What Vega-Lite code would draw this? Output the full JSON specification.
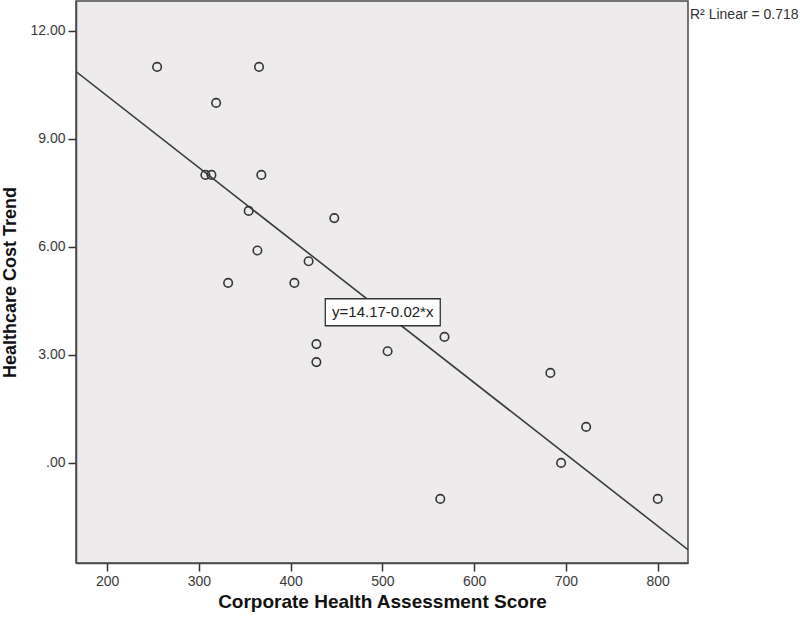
{
  "$schema": "https://vega.github.io/schema/vega-lite/v6.json",
  "width": 612,
  "height": 562,
  "autosize": {"type": "none"},
  "padding": {"left": 76, "top": 1, "right": 112, "bottom": 60},
  "background": "white",
  "config": {
    "view": {"fill": "#EDEBEB", "stroke": "#4a4a4a", "strokeWidth": 1.5},
    "font": "Liberation Sans",
    "axis": {
      "grid": false,
      "domainColor": "#4a4a4a",
      "domainWidth": 1.5,
      "tickColor": "#333333",
      "tickWidth": 1.5,
      "tickSize": 8,
      "labelFont": "Liberation Sans",
      "labelFontSize": 14,
      "labelColor": "#3a3a3a",
      "labelPadding": 3,
      "titleFont": "Liberation Sans",
      "titleFontSize": 19,
      "titleFontWeight": "bold",
      "titleColor": "#111111"
    }
  },
  "datasets": {
    "points": [
      {"score": 254.4, "trend": 11.0},
      {"score": 365.5, "trend": 11.0},
      {"score": 318.7, "trend": 10.0},
      {"score": 307.0, "trend": 8.0},
      {"score": 313.6, "trend": 8.0},
      {"score": 368.0, "trend": 8.0},
      {"score": 354.2, "trend": 7.0},
      {"score": 447.5, "trend": 6.8},
      {"score": 363.7, "trend": 5.9},
      {"score": 419.5, "trend": 5.6},
      {"score": 331.8, "trend": 5.0},
      {"score": 404.0, "trend": 5.0},
      {"score": 428.0, "trend": 3.3},
      {"score": 428.0, "trend": 2.8},
      {"score": 505.6, "trend": 3.1},
      {"score": 567.6, "trend": 3.5},
      {"score": 683.0, "trend": 2.5},
      {"score": 722.0, "trend": 1.0},
      {"score": 694.7, "trend": 0.0},
      {"score": 563.0, "trend": -1.0},
      {"score": 800.0, "trend": -1.0}
    ],
    "fit": [
      {"score": 166, "trend": 10.87},
      {"score": 833, "trend": -2.41}
    ],
    "note": [
      {"label": "y=14.17-0.02*x", "score": 500.3, "trend": 4.18, "xa": 437.7, "xb": 563.0, "ya": 3.81, "yb": 4.56}
    ],
    "r2": [
      {"label": "R² Linear = 0.718", "score": 833, "trend": 12.44}
    ]
  },
  "layer": [
    {
      "data": {"name": "fit"},
      "mark": {"type": "line", "color": "#3c3c3c", "strokeWidth": 1.6, "clip": true},
      "encoding": {
        "x": {
          "field": "score", "type": "quantitative",
          "scale": {"domain": [166, 833], "nice": false, "zero": false},
          "axis": {
            "values": [200, 300, 400, 500, 600, 700, 800],
            "title": "Corporate Health Assessment Score",
            "titlePadding": 4
          }
        },
        "y": {
          "field": "trend", "type": "quantitative",
          "scale": {"domain": [-2.78, 12.83], "nice": false, "zero": false},
          "axis": {
            "values": [0, 3, 6, 9, 12],
            "labelExpr": "datum.value == 0 ? '.00' : format(datum.value, '.2f')",
            "title": "Healthcare Cost Trend",
            "titleFontSize": 18,
            "titlePadding": 10
          }
        }
      }
    },
    {
      "data": {"name": "note"},
      "mark": {"type": "rect", "fill": "white", "stroke": "#333333", "strokeWidth": 1.3},
      "encoding": {
        "x": {"field": "xa", "type": "quantitative", "title": "Corporate Health Assessment Score"},
        "x2": {"field": "xb"},
        "y": {"field": "ya", "type": "quantitative", "title": "Healthcare Cost Trend"},
        "y2": {"field": "yb"}
      }
    },
    {
      "data": {"name": "note"},
      "mark": {"type": "text", "fontSize": 15, "color": "#222222", "align": "center", "baseline": "middle"},
      "encoding": {
        "x": {"field": "score", "type": "quantitative", "title": "Corporate Health Assessment Score"},
        "y": {"field": "trend", "type": "quantitative", "title": "Healthcare Cost Trend"},
        "text": {"field": "label"}
      }
    },
    {
      "data": {"name": "points"},
      "mark": {"type": "point", "shape": "circle", "filled": false, "size": 72, "stroke": "#363636", "strokeWidth": 1.6, "opacity": 1},
      "encoding": {
        "x": {"field": "score", "type": "quantitative", "title": "Corporate Health Assessment Score"},
        "y": {"field": "trend", "type": "quantitative", "title": "Healthcare Cost Trend"}
      }
    },
    {
      "data": {"name": "r2"},
      "mark": {"type": "text", "fontSize": 14, "color": "#333333", "align": "left", "baseline": "middle", "dx": 2, "clip": false},
      "encoding": {
        "x": {"field": "score", "type": "quantitative", "title": "Corporate Health Assessment Score"},
        "y": {"field": "trend", "type": "quantitative", "title": "Healthcare Cost Trend"},
        "text": {"field": "label"}
      }
    }
  ]
}
